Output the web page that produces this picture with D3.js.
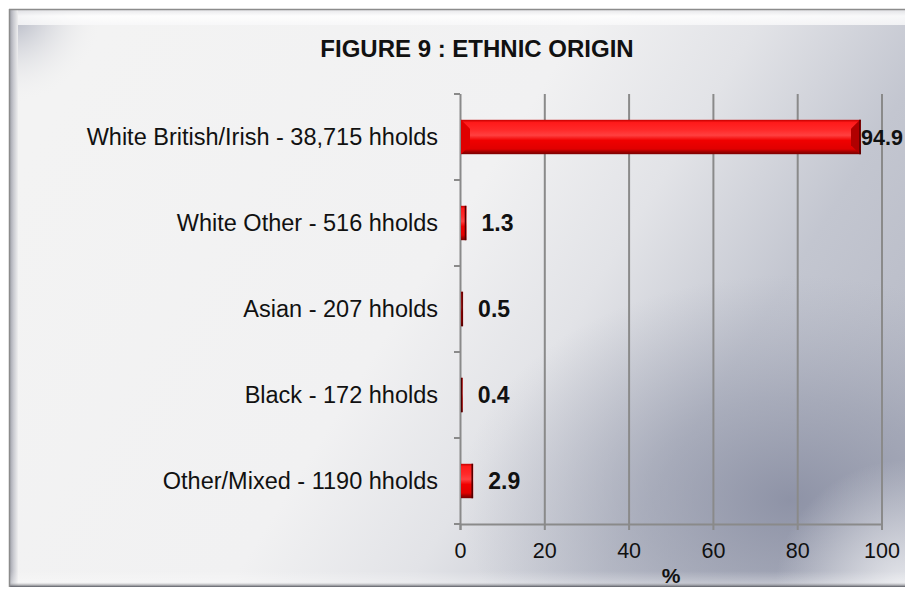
<!DOCTYPE html>
<html>
<head>
<meta charset="utf-8">
<script src="https://cdn.jsdelivr.net/npm/d3@7"></script>
<style>
  html, body { margin: 0; padding: 0; background: #ffffff; }
  svg { display: block; font-family: "Liberation Sans", Arial, sans-serif; }
</style>
</head>
<body>
<svg id="chart" width="905" height="590"></svg>
<script>
// Ethnic origin of households, percentage share
const categories = [
  "White British/Irish - 38,715 hholds",
  "White Other - 516 hholds",
  "Asian - 207 hholds",
  "Black - 172 hholds",
  "Other/Mixed - 1190 hholds"
];
const percentages = [94.9, 1.3, 0.5, 0.4, 2.9];
const xTicks = [0, 20, 40, 60, 80, 100];
const titleText = "FIGURE 9 : ETHNIC ORIGIN";
const axisTitle = "%";

const data = categories.map((c, i) => ({ name: c, value: percentages[i] }));

const svg = d3.select("#chart");
const W = 905, H = 590;
const defs = svg.append("defs");

// ---- background panel with bevelled frame ----
const bg = defs.append("linearGradient").attr("id", "bgGrad")
  .attr("x1", 0).attr("y1", 0.3).attr("x2", 1).attr("y2", 0.7);
[[0, "#f3f3f3"], [0.45, "#f1f1f2"], [0.62, "#e2e3e7"], [0.8, "#c3c6d0"], [1, "#b7bac6"]]
  .forEach(([o, c]) => bg.append("stop").attr("offset", o).attr("stop-color", c));

// darker bluish patch towards the lower right
const shade = defs.append("radialGradient").attr("id", "shade")
  .attr("gradientUnits", "userSpaceOnUse")
  .attr("cx", 790).attr("cy", 500).attr("r", 300)
  .attr("gradientTransform", "translate(790,500) scale(1.1,0.75) rotate(-35) translate(-790,-500)");
shade.append("stop").attr("offset", 0).attr("stop-color", "#868ba0").attr("stop-opacity", 0.85);
shade.append("stop").attr("offset", 0.45).attr("stop-color", "#8f94a7").attr("stop-opacity", 0.5);
shade.append("stop").attr("offset", 1).attr("stop-color", "#a0a4b4").attr("stop-opacity", 0);

// light sheen in the bottom-right corner
const sheen = defs.append("radialGradient").attr("id", "sheen")
  .attr("gradientUnits", "userSpaceOnUse").attr("cx", 905).attr("cy", 590).attr("r", 130);
sheen.append("stop").attr("offset", 0).attr("stop-color", "#eeeff2").attr("stop-opacity", 0.9);
sheen.append("stop").attr("offset", 1).attr("stop-color", "#eeeff2").attr("stop-opacity", 0);

const topBevel = defs.append("linearGradient").attr("id", "topBevel")
  .attr("x1", 0).attr("y1", 0).attr("x2", 0).attr("y2", 1);
topBevel.append("stop").attr("offset", 0).attr("stop-color", "#e6e6e9");
topBevel.append("stop").attr("offset", 0.4).attr("stop-color", "#ffffff");
topBevel.append("stop").attr("offset", 1).attr("stop-color", "#f8f8f9");

const leftBevel = defs.append("linearGradient").attr("id", "leftBevel")
  .attr("x1", 0).attr("y1", 0).attr("x2", 1).attr("y2", 0);
leftBevel.append("stop").attr("offset", 0).attr("stop-color", "#9a9ca6");
leftBevel.append("stop").attr("offset", 0.5).attr("stop-color", "#c9cad0");
leftBevel.append("stop").attr("offset", 1).attr("stop-color", "#eeeeef");

const cornerGlow = defs.append("radialGradient").attr("id", "cornerGlow")
  .attr("cx", 0).attr("cy", 0).attr("r", 1);
cornerGlow.append("stop").attr("offset", 0).attr("stop-color", "#a2a6b6").attr("stop-opacity", 0.95);
cornerGlow.append("stop").attr("offset", 1).attr("stop-color", "#f3f3f3").attr("stop-opacity", 0);

const botBevel = defs.append("linearGradient").attr("id", "botBevel")
  .attr("x1", 0).attr("y1", 0).attr("x2", 0).attr("y2", 1);
botBevel.append("stop").attr("offset", 0).attr("stop-color", "#ffffff").attr("stop-opacity", 0.0);
botBevel.append("stop").attr("offset", 0.7).attr("stop-color", "#ffffff").attr("stop-opacity", 0.3);
botBevel.append("stop").attr("offset", 1).attr("stop-color", "#55575f").attr("stop-opacity", 1);

const frame = { x: 9, y: 9, w: W, h: 578 };
svg.append("rect").attr("x", frame.x).attr("y", frame.y)
  .attr("width", frame.w).attr("height", frame.h).attr("fill", "url(#bgGrad)");
svg.append("rect").attr("x", frame.x).attr("y", frame.y)
  .attr("width", frame.w).attr("height", frame.h).attr("fill", "url(#shade)");
svg.append("rect").attr("x", frame.x).attr("y", frame.y)
  .attr("width", frame.w).attr("height", frame.h).attr("fill", "url(#sheen)");
svg.append("rect").attr("x", frame.x).attr("y", frame.y)
  .attr("width", 95).attr("height", 95).attr("fill", "url(#cornerGlow)");
svg.append("rect").attr("x", frame.x).attr("y", frame.y + 1)
  .attr("width", frame.w).attr("height", 15).attr("fill", "url(#topBevel)").attr("opacity", 0.85);
svg.append("rect").attr("x", frame.x).attr("y", frame.y)
  .attr("width", 9).attr("height", frame.h).attr("fill", "url(#leftBevel)");
svg.append("rect").attr("x", frame.x).attr("y", frame.y + frame.h - 16)
  .attr("width", frame.w).attr("height", 16).attr("fill", "url(#botBevel)");
svg.append("line").attr("x1", frame.x).attr("x2", W).attr("y1", frame.y + 0.5).attr("y2", frame.y + 0.5)
  .attr("stroke", "#8c8c8c").attr("stroke-width", 1.5);
svg.append("line").attr("x1", frame.x + 0.5).attr("x2", frame.x + 0.5).attr("y1", frame.y).attr("y2", frame.y + frame.h)
  .attr("stroke", "#8c8c8c").attr("stroke-width", 1.5);

// ---- plot ----
const plot = { left: 460, right: 881.5, top: 94, bottom: 524 };
const x = d3.scaleLinear().domain([0, 100]).range([plot.left, plot.right]);
const y = d3.scaleBand().domain(categories).range([plot.top, plot.bottom]).paddingInner(0.6).paddingOuter(0.3);
const yEdges = d3.scaleLinear().domain([0, categories.length]).range([plot.top, plot.bottom]);

const axisColor = "#8a8a8a";

// vertical gridlines
svg.append("g").selectAll("line").data(xTicks.slice(1)).join("line")
  .attr("x1", d => x(d) + 0.5).attr("x2", d => x(d) + 0.5)
  .attr("y1", plot.top).attr("y2", plot.bottom)
  .attr("stroke", axisColor).attr("stroke-width", 2);

// x axis
const xAxis = svg.append("g").attr("transform", `translate(0,${plot.bottom})`)
  .call(d3.axisBottom(x).tickValues(xTicks).tickSize(6).tickPadding(13).tickFormat(d3.format("d")));
xAxis.select(".domain").attr("stroke", axisColor).attr("stroke-width", 2).attr("d", `M${plot.left},0.5H${plot.right + 1}`);
xAxis.selectAll(".tick line").attr("stroke", axisColor).attr("stroke-width", 2);
xAxis.selectAll(".tick text").attr("fill", "#111").style("font-size", "21.5px")
  .style("font-family", '"Liberation Sans", Arial, sans-serif');

// y axis: ticks at category boundaries
svg.append("line").attr("x1", plot.left + 0.5).attr("x2", plot.left + 0.5)
  .attr("y1", plot.top).attr("y2", plot.bottom + 6).attr("stroke", axisColor).attr("stroke-width", 2);
svg.append("g").selectAll("line").data(d3.range(categories.length + 1)).join("line")
  .attr("x1", plot.left - 6).attr("x2", plot.left)
  .attr("y1", d => yEdges(d)).attr("y2", d => yEdges(d))
  .attr("stroke", axisColor).attr("stroke-width", 2);

// category labels
svg.append("g").selectAll("text").data(data).join("text")
  .attr("x", plot.left - 22).attr("y", d => y(d.name) + y.bandwidth() / 2)
  .attr("dy", "0.35em").attr("text-anchor", "end")
  .attr("fill", "#111").style("font-size", "23.5px")
  .text(d => d.name);

// bars with a bevelled look
const barGrad = defs.append("linearGradient").attr("id", "barGrad")
  .attr("x1", 0).attr("y1", 0).attr("x2", 0).attr("y2", 1);
[[0, "#c40000"], [0.08, "#ff1a1a"], [0.3, "#ff2a2a"], [0.45, "#ff4040"], [0.6, "#f00000"],
 [0.85, "#e00000"], [0.93, "#a00000"], [1, "#7a0000"]].forEach(([o, c]) =>
  barGrad.append("stop").attr("offset", o).attr("stop-color", c));

const bars = svg.append("g").selectAll("g").data(data).join("g");
bars.append("rect")
  .attr("x", x(0) + 1).attr("y", d => y(d.name))
  .attr("width", d => Math.max(0, x(d.value) - x(0)))
  .attr("height", y.bandwidth())
  .attr("fill", "url(#barGrad)");
// left and right bevel facets
const bev = 9;
bars.filter(d => x(d.value) - x(0) > 2 * bev).append("path")
  .attr("d", d => {
    const x0 = x(0) + 1, y0 = y(d.name), h = y.bandwidth();
    return `M${x0},${y0}L${x0 + bev},${y0 + bev}L${x0 + bev},${y0 + h - bev}L${x0},${y0 + h}Z`;
  }).attr("fill", "#e00000");
bars.filter(d => x(d.value) - x(0) > 2 * bev).append("path")
  .attr("d", d => {
    const x1 = x(d.value), y0 = y(d.name), h = y.bandwidth();
    return `M${x1},${y0}L${x1 - bev},${y0 + bev}L${x1 - bev},${y0 + h - bev}L${x1},${y0 + h}Z`;
  }).attr("fill", "#b00000");
bars.append("line")
  .attr("x1", d => x(d.value)).attr("x2", d => x(d.value))
  .attr("y1", d => y(d.name)).attr("y2", d => y(d.name) + y.bandwidth())
  .attr("stroke", "#500000").attr("stroke-width", 1.5);

// value labels; the largest sits tight against the bar end near the panel edge
svg.append("g").selectAll("text").data(data).join("text")
  .attr("x", d => d.value > 50 ? x(d.value) + 1 : x(d.value) + 16)
  .attr("y", d => y(d.name) + y.bandwidth() / 2)
  .attr("dy", "0.35em")
  .attr("fill", "#111").style("font-weight", "bold")
  .style("font-size", d => d.value > 50 ? "21.5px" : "23px")
  .text(d => d3.format(".1f")(d.value));

// titles
svg.append("text").attr("x", 477).attr("y", 57).attr("text-anchor", "middle")
  .style("font-size", "24px").style("font-weight", "bold").attr("fill", "#111").text(titleText);
svg.append("text").attr("x", 671).attr("y", 583).attr("text-anchor", "middle")
  .style("font-size", "21px").style("font-weight", "bold").attr("fill", "#111").text(axisTitle);
</script>
</body>
</html>
